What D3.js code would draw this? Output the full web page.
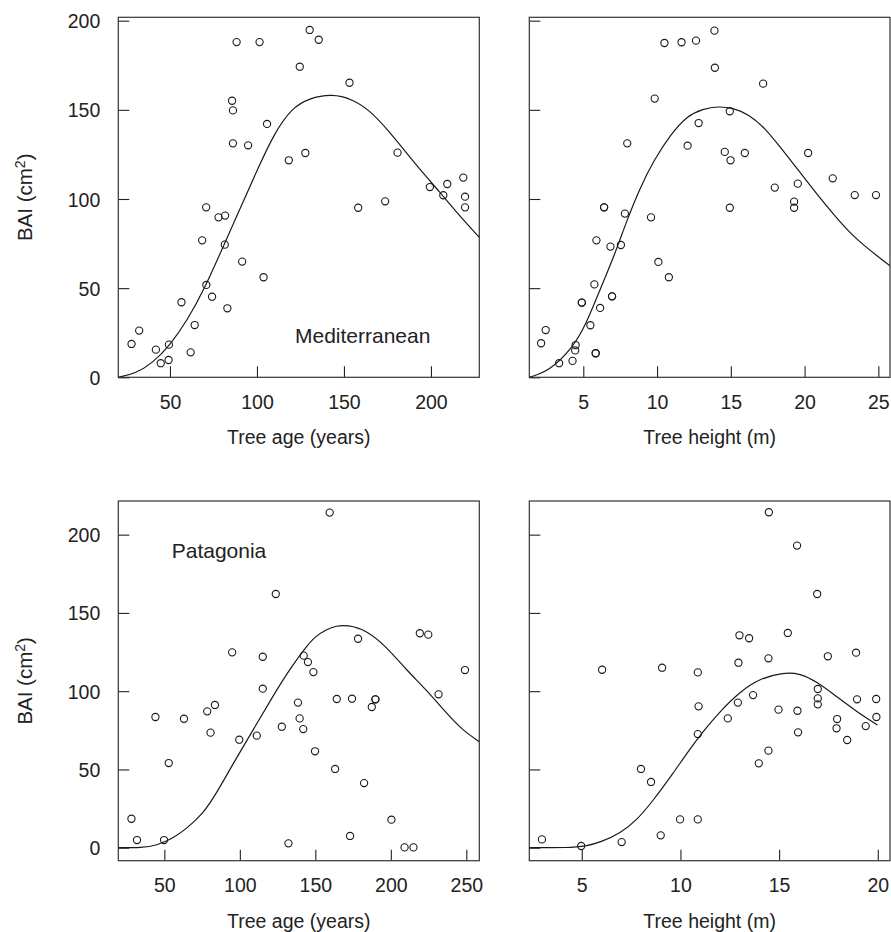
<!DOCTYPE html>
<html>
<head>
<meta charset="utf-8">
<script src="https://cdn.jsdelivr.net/npm/d3@7"></script>
<style>
  body { margin: 0; background: #fff; }
  svg text { font-family: "Liberation Sans", Arial, Helvetica, sans-serif; fill: #222; }
</style>
</head>
<body>
<script>
// --- data ---
// Mediterranean, BAI vs tree age
const medAgePoints = [
  [27.9, 18.7], [32.3, 26.2], [41.9, 15.5], [44.7, 7.9], [49.4, 18.3], [49.2, 9.7],
  [56.6, 42.1], [61.9, 14.0], [64.2, 29.3], [68.5, 76.8], [70.8, 95.3], [70.9, 51.8],
  [74.2, 45.2], [77.9, 89.7], [81.7, 90.7], [81.5, 74.4], [83.0, 38.7], [85.7, 155.1],
  [86.2, 149.7], [86.2, 131.2], [88.3, 188.0], [91.5, 64.9], [94.9, 130.1], [101.5, 188.0],
  [103.8, 56.1], [105.8, 142.1], [118.3, 121.7], [124.6, 174.2], [127.8, 125.8], [130.3, 194.8],
  [135.5, 189.3], [153.2, 165.2], [158.2, 95.1], [173.7, 98.7], [180.8, 126.0], [199.4, 106.7],
  [207.1, 102.1], [209.4, 108.4], [218.6, 112.0], [219.6, 101.3], [219.6, 95.3]
];
const medAgeCurve = [
  [20.3, 0], [30, 2], [40, 8], [50, 18], [60, 32], [70, 50], [80, 72], [90, 94],
  [100, 116], [110, 137], [120, 151], [130, 156.5], [143, 159], [155, 156],
  [165, 149.5], [175, 139], [185, 127], [195, 115], [205, 104], [216, 91],
  [227.8, 78.5]
];

// Mediterranean, BAI vs tree height
const medHeightPoints = [
  [2.14, 19.1], [2.45, 26.5], [3.36, 7.9], [4.27, 9.2], [4.48, 18.1], [4.45, 15.1],
  [4.9, 41.9], [4.9, 41.9], [5.48, 29.2], [5.84, 13.5], [5.84, 13.5], [5.75, 52.1],
  [5.89, 76.8], [6.14, 38.9], [6.41, 95.3], [6.41, 95.3], [6.84, 73.3], [6.95, 45.4],
  [6.95, 45.4], [7.55, 74.2], [7.82, 91.8], [7.98, 131.2], [9.59, 89.7], [9.84, 156.3],
  [10.09, 64.7], [10.8, 56.1], [10.5, 187.5], [11.66, 187.9], [12.64, 188.8], [12.07, 129.9],
  [12.82, 142.6], [13.89, 194.4], [13.92, 173.6], [17.19, 164.7], [14.93, 149.2], [14.59, 126.4],
  [14.98, 121.7], [15.95, 125.8], [14.93, 95.1], [17.98, 106.4], [19.54, 108.6], [19.29, 98.5],
  [19.29, 95.1], [20.24, 125.8], [21.91, 111.6], [23.4, 102.2], [24.84, 102.2]
];
const medHeightCurve = [
  [1.34, 0], [2.73, 3.7], [4.3, 16.8], [5.2, 30], [6.1, 48.6], [7.05, 67], [7.95, 88],
  [8.86, 106.5], [9.77, 121.5], [10.9, 136], [12.05, 146.7], [13.1, 150.5], [14.16, 152],
  [15.2, 151], [16.2, 147.5], [17.3, 140], [18.4, 128.5], [19.6, 116], [20.8, 103],
  [22.1, 90], [23.5, 77], [25.79, 62.6]
];

// Patagonia, BAI vs tree age
const patAgePoints = [
  [28.2, 18.5], [31.9, 4.9], [44.1, 83.5], [49.8, 4.9], [52.9, 54.1], [63.0, 82.4],
  [78.4, 87.1], [83.5, 91.2], [80.6, 73.5], [94.9, 124.8], [99.6, 69.0], [111.2, 71.6],
  [115.2, 122.0], [115.2, 101.6], [123.8, 162.1], [127.8, 77.3], [132.2, 2.8], [159.5, 214.1],
  [142.3, 122.7], [145.1, 118.6], [148.7, 112.2], [138.5, 92.7], [139.6, 82.6], [142.0, 75.8],
  [149.8, 61.6], [164.2, 95.0], [174.3, 95.2], [178.3, 133.5], [163.1, 50.3], [173.0, 7.5],
  [182.3, 41.3], [187.4, 89.9], [189.8, 94.8], [189.8, 94.8], [200.4, 17.9], [209.1, 0.2],
  [215.0, 0.2], [219.2, 137.0], [224.8, 136.1], [231.6, 98.0], [249.1, 113.5]
];
const patAgeCurve = [
  [19.5, 0], [35, 0], [45, 1.5], [55, 5.5], [65, 12.4], [75.8, 21.9], [85, 35.5],
  [95.6, 53.9], [108.8, 75.2], [122, 97], [133, 114], [144, 128.5], [150, 135],
  [157.3, 139.5], [164, 141.8], [171, 142.3], [183.8, 139.1], [197.1, 128.4],
  [210.4, 113.5], [223.7, 100.7], [237, 85.8], [247, 75.5], [258.6, 67.7]
];

// Patagonia, BAI vs tree height
const patHeightPoints = [
  [2.98, 5.3], [4.97, 1.1], [7.02, 3.6], [6.03, 113.7], [8.0, 50.3], [8.51, 42.0],
  [9.0, 7.9], [9.07, 115.0], [9.98, 18.1], [10.88, 18.1], [10.88, 112.0], [10.92, 90.3],
  [10.88, 72.6], [12.4, 82.6], [12.91, 92.7], [12.94, 118.2], [12.99, 135.7], [13.48, 133.8],
  [13.68, 97.5], [13.97, 53.9], [14.46, 62.0], [14.46, 121.0], [14.48, 214.3], [14.97, 88.2],
  [15.44, 137.2], [15.91, 193.0], [15.93, 87.5], [15.96, 73.7], [16.93, 162.1], [16.96, 101.4],
  [16.96, 95.4], [16.96, 91.6], [17.47, 122.3], [17.94, 82.2], [17.91, 76.3], [18.45, 68.8],
  [18.9, 124.6], [18.95, 94.8], [19.39, 77.7], [19.92, 95.0], [19.93, 83.5]
];
const patHeightCurve = [
  [2.34, 0], [4.3, 0], [5.2, 0.8], [6.0, 3.8], [6.95, 9.2], [7.8, 17.7], [8.64, 30.5],
  [9.6, 47], [10.5, 63.5], [11.2, 75], [12.0, 87], [13.02, 99.7], [14.04, 108.2],
  [15.22, 112], [16.06, 111.4], [16.91, 106], [17.92, 96.5], [18.94, 86.9], [19.98, 78.4]
];

// tick labels
const baiTicksMed = [0, 50, 100, 150, 200];
const baiTicksPat = [0, 50, 100, 150, 200];
const ageTicksMed = [50, 100, 150, 200];
const heightTicksMed = [5, 10, 15, 20, 25];
const ageTicksPat = [50, 100, 150, 200, 250];
const heightTicksPat = [5, 10, 15, 20];

// --- drawing ---
var width = 891;
var height = 932;
var axisFont = 19.5;
var tick = 11;

const svg = d3
  .select("body")
  .append("svg")
  .attr("width", width)
  .attr("height", height);

var cols = [
  { left: 118.3, right: 479.3 },
  { left: 529.3, right: 890 }
];
var rows = [
  { top: 17.3, bottom: 377.3 },
  { top: 501, bottom: 860.7 }
];

function drawPanel(p) {
  var col = cols[p.col];
  var row = rows[p.row];
  var w = col.right - col.left;
  var h = row.bottom - row.top;

  var x = d3.scaleLinear().domain(p.xDomain).range([0, w]);
  var y = d3.scaleLinear().domain(p.yDomain).range([h, 0]);

  var g = svg
    .append("g")
    .attr("transform", "translate(" + col.left + "," + row.top + ")");

  var clipId = "clip-" + p.row + "-" + p.col;
  g.append("clipPath")
    .attr("id", clipId)
    .append("rect")
    .attr("width", w)
    .attr("height", h);

  // x axis, ticks pointing inward
  var xAxis = d3
    .axisBottom(x)
    .tickValues(p.xTicks)
    .tickSizeInner(-tick)
    .tickSizeOuter(0)
    .tickPadding(17.5);
  var xg = g
    .append("g")
    .attr("transform", "translate(0," + h + ")")
    .call(xAxis);
  xg.select(".domain").remove();
  xg.selectAll("line").attr("stroke", "#222").attr("stroke-width", 1.1);
  xg.selectAll("text")
    .attr("fill", "#222")
    .style("font-size", axisFont + "px")
    .style("font-family", '"Liberation Sans", Arial, sans-serif');

  // y axis
  var yAxis = d3
    .axisLeft(y)
    .tickValues(p.yTicks)
    .tickSizeInner(-tick)
    .tickSizeOuter(0)
    .tickPadding(18);
  if (!p.yLabels) yAxis.tickFormat("");
  var yg = g.append("g").call(yAxis);
  yg.select(".domain").remove();
  yg.selectAll("line").attr("stroke", "#222").attr("stroke-width", 1.1);
  yg.selectAll("text")
    .attr("fill", "#222")
    .attr("dy", "0.36em")
    .style("font-size", axisFont + "px")
    .style("font-family", '"Liberation Sans", Arial, sans-serif');

  // frame
  g.append("rect")
    .attr("width", w)
    .attr("height", h)
    .attr("fill", "none")
    .attr("stroke", "#333")
    .attr("stroke-width", 1.2);

  // fitted curve
  var line = d3
    .line()
    .x(function (d) { return x(d[0]); })
    .y(function (d) { return y(d[1]); })
    .curve(d3.curveBasis);
  g.append("path")
    .attr("clip-path", "url(#" + clipId + ")")
    .attr("d", line(p.curve))
    .attr("fill", "none")
    .attr("stroke", "#1a1a1a")
    .attr("stroke-width", 1.2);

  // observations
  g.append("g")
    .selectAll("circle")
    .data(p.points)
    .enter()
    .append("circle")
    .attr("cx", function (d) { return x(d[0]); })
    .attr("cy", function (d) { return y(d[1]); })
    .attr("r", 3.6)
    .attr("fill", "none")
    .attr("stroke", "#1a1a1a")
    .attr("stroke-width", 1.1);

  // x title
  g.append("text")
    .attr("x", w / 2)
    .attr("y", h + 67)
    .attr("text-anchor", "middle")
    .style("font-size", axisFont + "px")
    .text(p.xTitle);

  // y title
  if (p.yLabels) {
    var yt = svg
      .append("text")
      .attr("text-anchor", "middle")
      .attr("transform", "translate(32," + (row.top + h / 2) + ") rotate(-90)")
      .style("font-size", "20.5px");
    yt.append("tspan").text("BAI (cm");
    yt.append("tspan")
      .attr("dy", -7)
      .style("font-size", "14px")
      .text("2");
    yt.append("tspan").attr("dy", 7).text(")");
  }

  // region label
  if (p.label) {
    g.append("text")
      .attr("x", p.label.x)
      .attr("y", p.label.y)
      .style("font-size", "21px")
      .text(p.label.text);
  }
}

drawPanel({
  row: 0, col: 0,
  points: medAgePoints, curve: medAgeCurve,
  xDomain: [20.3, 227.8], yDomain: [0, 201.9],
  xTicks: ageTicksMed, yTicks: baiTicksMed, yLabels: true,
  xTitle: "Tree age (years)",
  label: { text: "Mediterranean", x: 176.7, y: 325.7 }
});

drawPanel({
  row: 0, col: 1,
  points: medHeightPoints, curve: medHeightCurve,
  xDomain: [1.34, 25.79], yDomain: [0, 201.9],
  xTicks: heightTicksMed, yTicks: baiTicksMed, yLabels: false,
  xTitle: "Tree height (m)"
});

drawPanel({
  row: 1, col: 0,
  points: patAgePoints, curve: patAgeCurve,
  xDomain: [19.5, 258.6], yDomain: [-8.3, 221.5],
  xTicks: ageTicksPat, yTicks: baiTicksPat, yLabels: true,
  xTitle: "Tree age (years)",
  label: { text: "Patagonia", x: 53.4, y: 57.3 }
});

drawPanel({
  row: 1, col: 1,
  points: patHeightPoints, curve: patHeightCurve,
  xDomain: [2.34, 20.62], yDomain: [-8.3, 221.5],
  xTicks: heightTicksPat, yTicks: baiTicksPat, yLabels: false,
  xTitle: "Tree height (m)"
});
</script>
</body>
</html>
